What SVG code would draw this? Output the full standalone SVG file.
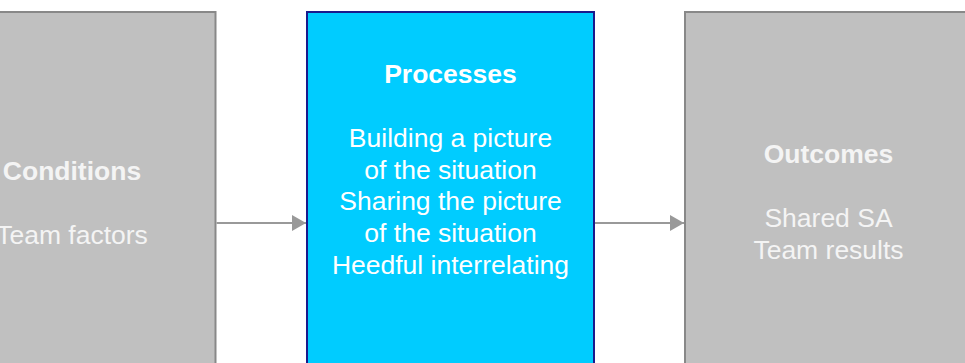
<svg xmlns="http://www.w3.org/2000/svg" width="965" height="363" viewBox="0 0 965 363">
<style>
.gray{fill:#c0c0c0;stroke:#888;stroke-width:2}
.blue{fill:#00ccff;stroke:#1a1a8c;stroke-width:2}
text{font-family:"Liberation Sans",Arial,sans-serif;font-size:26.5px;text-anchor:middle}
.t{font-weight:bold}
.gt{fill:#f4f4f4}
.wt{fill:#ffffff}
.conn{stroke:#999;stroke-width:2;fill:none}
</style>
<defs>
<marker id="ah" markerWidth="15" markerHeight="16" refX="14" refY="8" orient="auto" markerUnits="userSpaceOnUse">
<path d="M0,0 L14,8 L0,16 Z" fill="#999"/>
</marker>
</defs>
<rect width="965" height="363" fill="#ffffff"/>
<g id="conditions">
<rect class="gray" x="-71.5" y="12" width="287" height="370"/>
<text class="t gt" x="72" y="179.5">Conditions</text>
<text class="gt" x="72" y="243.5">Team factors</text>
</g>
<g id="processes">
<rect class="blue" x="307" y="12" width="287" height="370"/>
<text class="t wt" x="450.5" y="82.7">Processes</text>
<text class="wt" x="450.5" y="146.6">Building a picture</text>
<text class="wt" x="450.5" y="178.5">of the situation</text>
<text class="wt" x="450.5" y="210.4">Sharing the picture</text>
<text class="wt" x="450.5" y="242.3">of the situation</text>
<text class="wt" x="450.5" y="274.2">Heedful interrelating</text>
</g>
<g id="outcomes">
<rect class="gray" x="685" y="12" width="287" height="370"/>
<text class="t gt" x="828.5" y="163">Outcomes</text>
<text class="gt" x="828.5" y="227.2">Shared SA</text>
<text class="gt" x="828.5" y="258.6">Team results</text>
</g>
<g id="connectors">
<line class="conn" x1="216.5" y1="223" x2="306" y2="223" marker-end="url(#ah)"/>
<line class="conn" x1="595" y1="223" x2="684" y2="223" marker-end="url(#ah)"/>
</g>
</svg>
